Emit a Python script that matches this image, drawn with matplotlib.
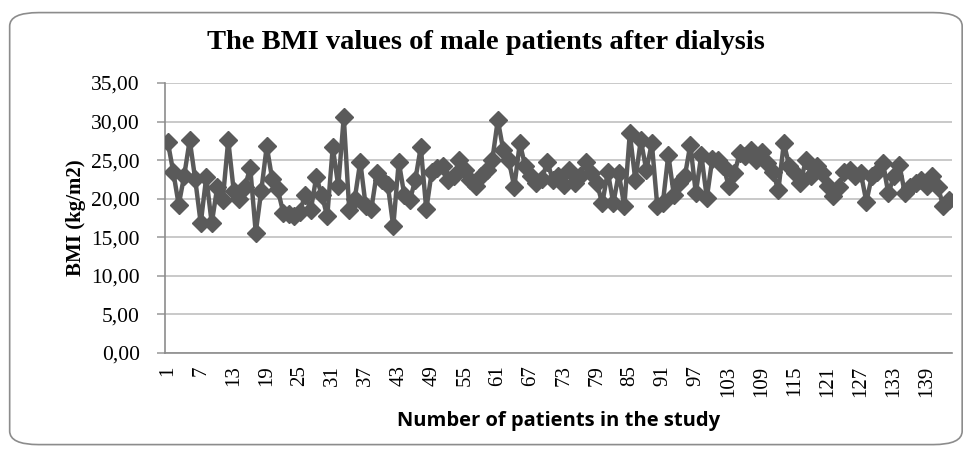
import numpy as np
import matplotlib
matplotlib.use('Agg')
import matplotlib.pyplot as plt
from matplotlib.patches import FancyBboxPatch
from matplotlib.ticker import FuncFormatter

# BMI values, patient 1..143
bmi = [27.4, 23.5, 19.2, 23.0, 27.6, 22.5, 16.8, 22.8, 16.8, 21.5,
       19.8, 27.6, 21.0, 20.0, 21.5, 24.0, 15.6, 21.0, 26.8, 22.5,
       21.2, 18.2, 18.0, 17.8, 18.3, 20.5, 18.5, 22.8, 20.5, 17.7,
       26.7, 21.6, 30.6, 18.5, 20.0, 24.8, 19.0, 18.6, 23.3, 22.4,
       21.8, 16.4, 24.8, 20.5, 19.8, 22.4, 26.7, 18.6, 23.5, 24.0,
       24.2, 22.4, 23.0, 25.0, 23.7, 22.4, 21.6, 23.0, 23.7, 25.0,
       30.2, 26.3, 25.0, 21.5, 27.2, 24.2, 22.9, 22.0, 22.5, 24.8,
       22.4, 23.0, 21.8, 23.7, 22.0, 23.0, 24.8, 23.3, 22.0, 19.4,
       23.5, 19.4, 23.3, 19.0, 28.5, 22.4, 27.6, 23.7, 27.2, 19.0,
       19.4, 25.7, 20.5, 22.0, 22.9, 27.0, 20.7, 25.7, 20.1, 25.2,
       25.0, 24.2, 21.6, 23.3, 25.9, 25.5, 26.3, 25.0, 26.1, 24.6,
       23.5, 21.1, 27.2, 24.2, 23.3, 22.0, 25.0, 23.0, 24.2, 23.3,
       21.6, 20.3, 21.5, 23.5, 23.7, 23.0, 23.3, 19.6, 22.9, 23.5,
       24.6, 20.7, 22.9, 24.4, 20.7, 21.5, 22.0, 22.4, 21.6, 22.9,
       21.5, 19.0, 19.8]
patients = np.arange(1, len(bmi) + 1)
tick_patients = patients[::6]
y_ticks = [0, 5, 10, 15, 20, 25, 30, 35]

serif = 'Liberation Serif'
grey = '#5a5a5a'

fig = plt.figure(figsize=(9.67, 4.5), dpi=100)
fig.patches.append(FancyBboxPatch((0.010, 0.012), 0.985, 0.96,
                                  boxstyle='round,pad=0,rounding_size=0.03',
                                  transform=fig.transFigure, fill=False,
                                  edgecolor='#8c8c8c', linewidth=1.2))

ax = fig.add_axes([0.1706, 0.2156, 0.8135, 0.6])
ax.plot(patients, bmi, color=grey, linewidth=3.2, marker='D',
        markersize=9.5, markerfacecolor=grey, markeredgecolor=grey, zorder=3)

ax.set_xlim(0.5, len(bmi) + 0.5)
ax.set_ylim(0, 35)
ax.set_yticks(y_ticks)
ax.yaxis.set_major_formatter(FuncFormatter(lambda v, p: ('%.2f' % v).replace('.', ',')))
ax.set_xticks(tick_patients)
ax.set_xticklabels([str(t) for t in tick_patients], rotation=90)
ax.grid(axis='y', color='#c0c0c0', linewidth=1.2)
ax.set_axisbelow(True)
for s in ['top', 'right']:
    ax.spines[s].set_visible(False)
for s in ['left', 'bottom']:
    ax.spines[s].set_color('#8c8c8c')
    ax.spines[s].set_linewidth(1.2)
ax.tick_params(axis='y', length=6, width=1.2, color='#a0a0a0', pad=12)
ax.tick_params(axis='x', length=0, pad=9)
for lab in ax.get_yticklabels():
    lab.set_fontfamily(serif)
    lab.set_fontsize(15.5)
for lab in ax.get_xticklabels():
    lab.set_fontfamily(serif)
    lab.set_fontsize(15)

ax.set_ylabel('BMI (kg/m2)', fontfamily=serif, fontweight='bold', fontsize=15, labelpad=4)
ax.set_xlabel('Number of patients in the study', fontfamily='Open Sans',
              fontweight='bold', fontsize=14.5, labelpad=10)
fig.text(0.503, 0.905, 'The BMI values of male patients after dialysis',
         ha='center', va='center', fontfamily=serif, fontweight='bold', fontsize=20.5)

plt.savefig('out.png', dpi=100)
